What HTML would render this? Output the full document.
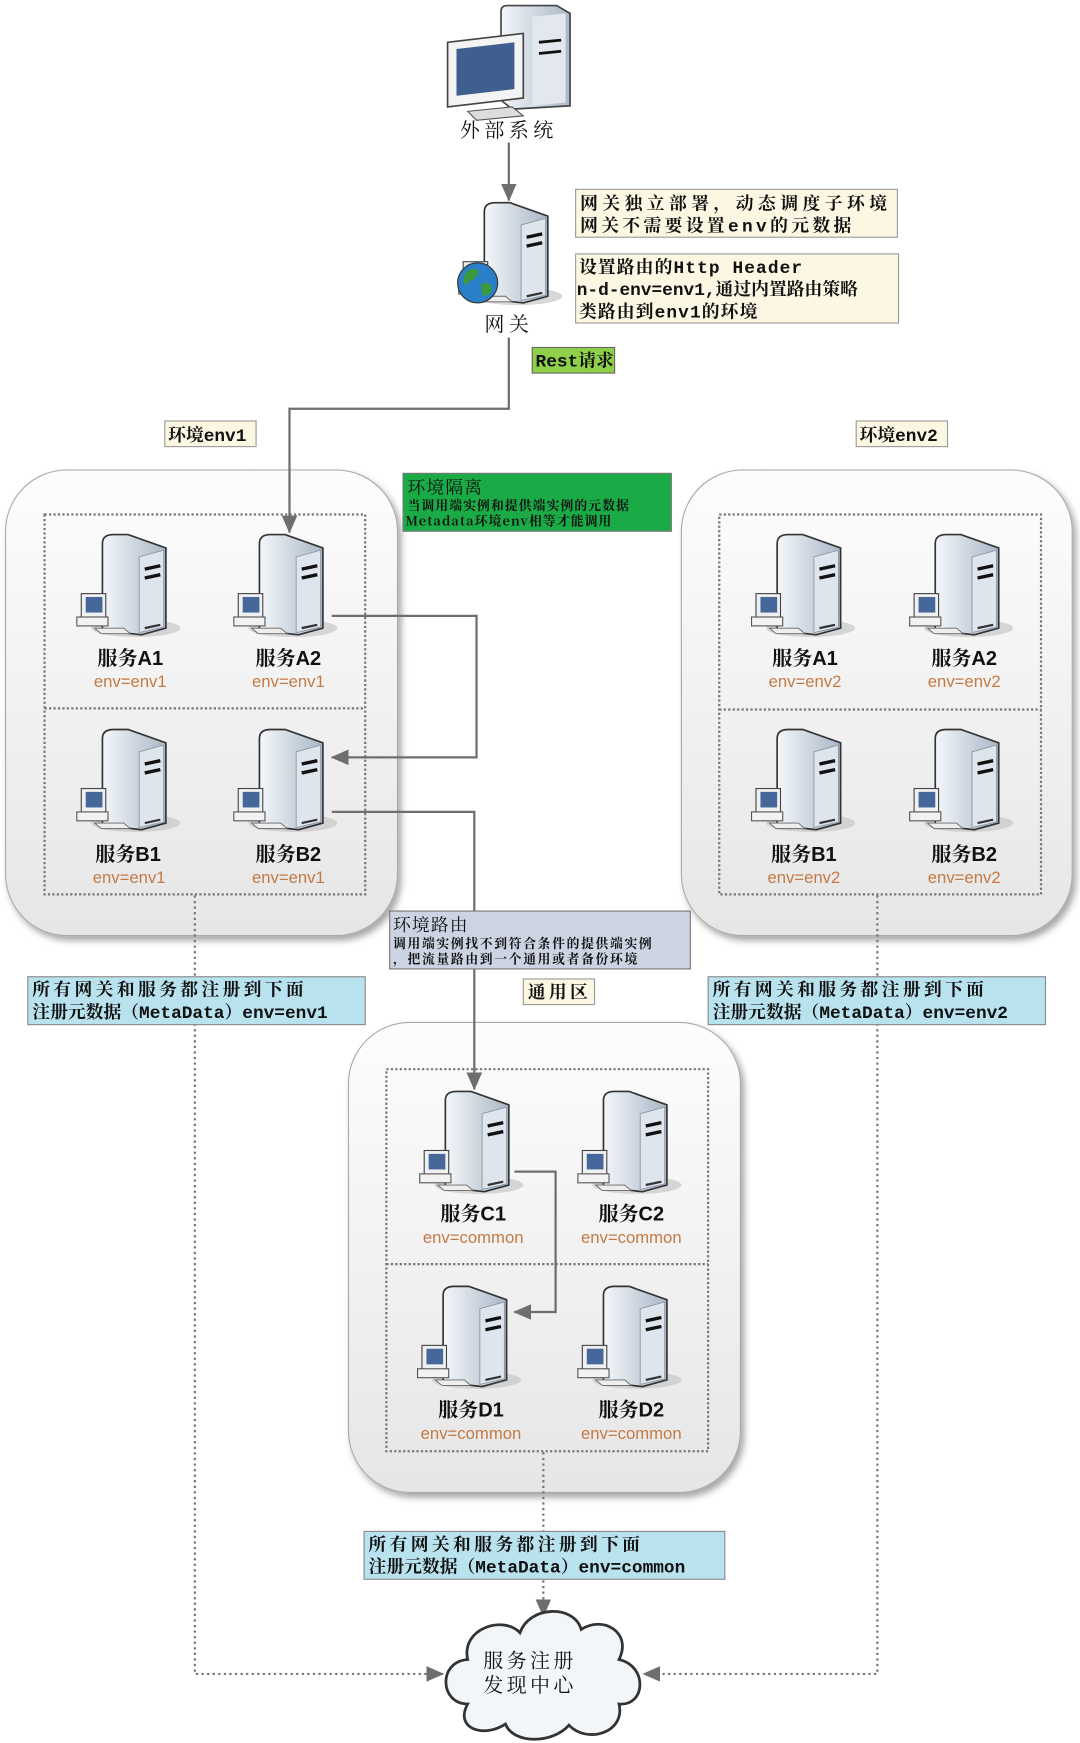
<!DOCTYPE html>
<html><head><meta charset="utf-8"><style>
html,body{margin:0;padding:0;background:#fff;width:1080px;height:1743px;overflow:hidden}
svg{display:block}
text{font-family:"Liberation Sans","Noto Serif CJK SC","Noto Sans CJK SC",sans-serif}
.cn{font-family:"Noto Serif CJK SC","Noto Sans CJK SC",serif}
.nm{font-size:18px;font-weight:bold;fill:#111;text-anchor:middle;font-family:"Liberation Sans","Noto Serif CJK SC",sans-serif}
.ev{font-size:15px;fill:#c47a45;text-anchor:middle;font-family:"Liberation Sans",sans-serif}
.nt{font-size:16px;fill:#111;font-family:"Liberation Mono","Noto Serif CJK SC",monospace;font-weight:bold}
</style></head><body>
<svg width="1080" height="1743" viewBox="0 0 970 1565" preserveAspectRatio="none" xmlns="http://www.w3.org/2000/svg">
<defs>
<linearGradient id="tw" x1="0" x2="1"><stop offset="0" stop-color="#f4f7fa"/><stop offset="1" stop-color="#a9b7c6"/></linearGradient>
<linearGradient id="pn" x1="0" y1="0" x2="0" y2="1"><stop offset="0" stop-color="#fdfdfd"/><stop offset="1" stop-color="#e6e6e6"/></linearGradient>
<filter id="sh" x="-10%" y="-10%" width="130%" height="130%"><feDropShadow dx="3" dy="4" stdDeviation="3" flood-color="#000" flood-opacity="0.35"/></filter>
<marker id="ar2" markerWidth="16" markerHeight="14" refX="15" refY="7" orient="auto" markerUnits="userSpaceOnUse"><path d="M0,0 L16,7 L0,14 Z" fill="#6e6e6e"/></marker>
<g id="srv">
<ellipse cx="55" cy="86" rx="40" ry="8" fill="#c8c8c8" opacity="0.7"/>
<path d="M25,88 L25,10 Q25,2 35,2 L48,2 L82,14 L82,86 L60,92 Z" fill="url(#tw)" stroke="#333" stroke-width="1.5"/>
<path d="M58,22 L80,16 L80,85 L58,90 Z" fill="#dfe5ec" stroke="#8a96a3" stroke-width="0.8"/>
<line x1="63" y1="33" x2="77" y2="30" stroke="#111" stroke-width="3"/>
<line x1="63" y1="41" x2="77" y2="38" stroke="#111" stroke-width="3"/>
<line x1="63" y1="86" x2="77" y2="83" stroke="#333" stroke-width="2"/>
<rect x="6" y="55" width="22" height="22" fill="#f0f0f0" stroke="#444"/>
<rect x="10" y="58" width="15" height="14" fill="#45679a"/>
<rect x="2" y="76" width="28" height="8" fill="#f2f2f2" stroke="#555"/>
<path d="M18,86 L44,86 L50,91 L24,91 Z" fill="#eee" stroke="#666" stroke-width="0.8"/>
</g>
</defs>

<g>
<path d="M450,10 Q450,5 456,5 L500,5 L512,12 L512,95 L460,98 L450,90 Z" fill="url(#tw)" stroke="#444" stroke-width="1.5"/>
<path d="M478,15 L508,12 L508,92 L478,95 Z" fill="#e3e8ee"/>
<line x1="484" y1="38" x2="504" y2="36" stroke="#111" stroke-width="2.5"/>
<line x1="484" y1="48" x2="504" y2="46" stroke="#111" stroke-width="2.5"/>
<path d="M402,38 L470,30 L470,88 L402,96 Z" fill="#f4f4f4" stroke="#444" stroke-width="1.5"/>
<path d="M410,44 L462,38 L462,80 L410,86 Z" fill="#3f5f8f"/>
<path d="M420,100 L460,96 L470,104 L428,108 Z" fill="#ddd" stroke="#555"/>
</g>
<text x="457" y="123" class="cn" font-size="18" text-anchor="middle" fill="#111" style="letter-spacing:4px">外部系统</text>
<line x1="457" y1="128" x2="457" y2="180" stroke="#6e6e6e" stroke-width="2" marker-end="url(#ar2)"/>

<use href="#srv" transform="translate(410,180)"/>
<circle cx="429" cy="254" r="18" fill="#2a7fc8" stroke="#333"/>
<path d="M418,245 q6,-6 12,-2 q-2,8 -8,9 q-4,6 -6,1 Z M432,255 q8,-3 10,4 q-3,8 -9,6 Z" fill="#3d9a3a"/>
<text x="457" y="297" class="cn" font-size="18" text-anchor="middle" fill="#111" style="letter-spacing:4px">网关</text>

<rect x="517" y="170" width="289" height="43" fill="#fcf7e3" stroke="#999"/>
<text x="521" y="188" class="nt" style="letter-spacing:4px">网关独立部署，动态调度子环境</text>
<text x="521" y="208" class="nt" style="letter-spacing:3px">网关不需要设置env的元数据</text>
<rect x="517" y="228" width="290" height="62" fill="#fcf7e3" stroke="#999"/>
<text x="520" y="245" class="nt" style="letter-spacing:1px">设置路由的Http Header</text>
<text x="518" y="265" class="nt">n-d-env=env1,通过内置路由策略</text>
<text x="520" y="285" class="nt" style="letter-spacing:1px">类路由到env1的环境</text>

<rect x="478" y="312" width="74" height="23" fill="#8fd04a" stroke="#666"/>
<text x="481" y="329" class="nt" font-size="15">Rest请求</text>

<rect x="148" y="378" width="82" height="23" fill="#fcf7e3" stroke="#999"/>
<text x="151" y="396" class="nt">环境env1</text>
<rect x="769" y="378" width="82" height="23" fill="#fcf7e3" stroke="#999"/>
<text x="772" y="396" class="nt">环境env2</text>

<rect x="5" y="422" width="352" height="418" rx="55" fill="url(#pn)" stroke="#aaa" filter="url(#sh)"/>
<rect x="612" y="422" width="351" height="418" rx="55" fill="url(#pn)" stroke="#aaa" filter="url(#sh)"/>
<rect x="313" y="918" width="352" height="422" rx="55" fill="url(#pn)" stroke="#aaa" filter="url(#sh)"/>

<g fill="none" stroke="#777" stroke-width="2" stroke-dasharray="2,2">
<rect x="40" y="462" width="288" height="341"/><line x1="40" y1="636" x2="328" y2="636"/>
<rect x="646" y="462" width="289" height="341"/><line x1="646" y1="637" x2="935" y2="637"/>
<rect x="347" y="960" width="289" height="343"/><line x1="347" y1="1135" x2="636" y2="1135"/>
</g>

<use href="#srv" transform="translate(67,478)"/>
<use href="#srv" transform="translate(208,478)"/>
<use href="#srv" transform="translate(67,653)"/>
<use href="#srv" transform="translate(208,653)"/>
<text x="117" y="597" class="nm">服务A1</text><text x="117" y="617" class="ev">env=env1</text>
<text x="259" y="597" class="nm">服务A2</text><text x="259" y="617" class="ev">env=env1</text>
<text x="115" y="773" class="nm">服务B1</text><text x="116" y="793" class="ev">env=env1</text>
<text x="259" y="773" class="nm">服务B2</text><text x="259" y="793" class="ev">env=env1</text>
<use href="#srv" transform="translate(673,478)"/>
<use href="#srv" transform="translate(815,478)"/>
<use href="#srv" transform="translate(673,653)"/>
<use href="#srv" transform="translate(815,653)"/>
<text x="723" y="597" class="nm">服务A1</text><text x="723" y="617" class="ev">env=env2</text>
<text x="866" y="597" class="nm">服务A2</text><text x="866" y="617" class="ev">env=env2</text>
<text x="722" y="773" class="nm">服务B1</text><text x="722" y="793" class="ev">env=env2</text>
<text x="866" y="773" class="nm">服务B2</text><text x="866" y="793" class="ev">env=env2</text>
<use href="#srv" transform="translate(375,978)"/>
<use href="#srv" transform="translate(517,978)"/>
<use href="#srv" transform="translate(373,1153)"/>
<use href="#srv" transform="translate(517,1153)"/>
<text x="425" y="1096" class="nm">服务C1</text><text x="425" y="1116" class="ev">env=common</text>
<text x="567" y="1096" class="nm">服务C2</text><text x="567" y="1116" class="ev">env=common</text>
<text x="423" y="1272" class="nm">服务D1</text><text x="423" y="1292" class="ev">env=common</text>
<text x="567" y="1272" class="nm">服务D2</text><text x="567" y="1292" class="ev">env=common</text>

<polyline points="457,303 457,367 260,367 260,478" fill="none" stroke="#6e6e6e" stroke-width="2" marker-end="url(#ar2)"/>
<polyline points="298,553 428,553 428,680 298,680" fill="none" stroke="#6e6e6e" stroke-width="2" marker-end="url(#ar2)"/>
<polyline points="298,729 426,729 426,978" fill="none" stroke="#6e6e6e" stroke-width="2" marker-end="url(#ar2)"/>
<polyline points="462,1052 499,1052 499,1178 462,1178" fill="none" stroke="#6e6e6e" stroke-width="2" marker-end="url(#ar2)"/>

<rect x="362" y="425" width="241" height="52" fill="#1aab46" stroke="#777"/>
<text x="366" y="443" class="cn" font-size="16" fill="#111" style="letter-spacing:1px">环境隔离</text>
<text x="366" y="458" class="cn" font-size="11.5" fill="#111" font-weight="bold" style="letter-spacing:1px">当调用端实例和提供端实例的元数据</text>
<text x="364" y="472" class="cn" font-size="11.5" fill="#111" font-weight="bold" style="letter-spacing:1px">Metadata环境env相等才能调用</text>

<rect x="350" y="818" width="270" height="52" fill="#ccd3e3" stroke="#777"/>
<text x="353" y="836" class="cn" font-size="16" fill="#111" style="letter-spacing:1px">环境路由</text>
<text x="353" y="851" class="cn" font-size="11.5" fill="#111" font-weight="bold" style="letter-spacing:1.5px">调用端实例找不到符合条件的提供端实例</text>
<text x="353" y="865" class="cn" font-size="11.5" fill="#111" font-weight="bold" style="letter-spacing:1.5px">，把流量路由到一个通用或者备份环境</text>

<g fill="none" stroke="#777" stroke-width="2" stroke-dasharray="2,3">
<polyline points="175,804 175,1503 398,1503" marker-end="url(#ar2)"/>
<polyline points="788,804 788,1503 578,1503" marker-end="url(#ar2)"/>
<polyline points="488,1304 488,1451" marker-end="url(#ar2)"/>
</g>

<rect x="25" y="877" width="303" height="43" fill="#b9e2ef" stroke="#888"/>
<text x="29" y="894" class="nt" style="letter-spacing:3px">所有网关和服务都注册到下面</text>
<text x="29" y="914" class="nt">注册元数据（MetaData）env=env1</text>
<rect x="636" y="877" width="303" height="43" fill="#b9e2ef" stroke="#888"/>
<text x="640" y="894" class="nt" style="letter-spacing:3px">所有网关和服务都注册到下面</text>
<text x="640" y="914" class="nt">注册元数据（MetaData）env=env2</text>
<rect x="470" y="879" width="64" height="23" fill="#fcf7e3" stroke="#999"/>
<text x="474" y="896" class="nt" style="letter-spacing:3px">通用区</text>
<rect x="327" y="1375" width="324" height="43" fill="#b9e2ef" stroke="#888"/>
<text x="331" y="1392" class="nt" style="letter-spacing:3px">所有网关和服务都注册到下面</text>
<text x="331" y="1412" class="nt">注册元数据（MetaData）env=common</text>

<path d="M420,1530 C395,1530 393,1492 420,1490 C414,1462 452,1450 467,1466 C476,1441 516,1441 522,1463 C542,1450 568,1466 556,1490 C582,1496 580,1532 556,1530 C562,1556 527,1566 511,1549 C496,1566 461,1566 454,1548 C434,1561 408,1552 420,1530 Z" fill="#f3f6f9" stroke="#333" stroke-width="2.5"/>
<text x="476" y="1497" class="cn" font-size="18" text-anchor="middle" fill="#111" style="letter-spacing:3px">服务注册</text>
<text x="476" y="1519" class="cn" font-size="18" text-anchor="middle" fill="#111" style="letter-spacing:3px">发现中心</text>
</svg>
</body></html>
